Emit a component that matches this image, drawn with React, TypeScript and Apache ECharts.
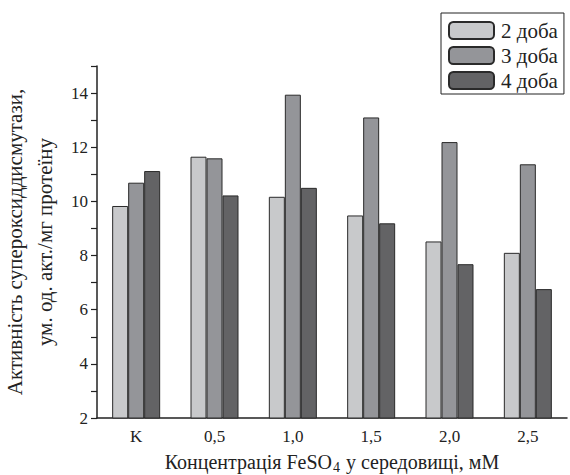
import React, { useEffect, useRef } from "react";
import * as echarts from "echarts";

const categories = ["K", "0,5", "1,0", "1,5", "2,0", "2,5"];
const seriesNames = ["2 доба", "3 доба", "4 доба"];
const day2 = [9.83, 11.65, 10.17, 9.48, 8.52, 8.1];
const day3 = [10.69, 11.59, 13.94, 13.1, 12.19, 11.37];
const day4 = [11.12, 10.22, 10.5, 9.19, 7.68, 6.76];
const colors = ["#c8c9cb", "#949599", "#636365"];

const FONT = "Liberation Serif";

export default function App() {
  const ref = useRef<HTMLDivElement>(null);
  useEffect(() => {
    if (!ref.current) return;
    const chart = echarts.init(ref.current, null, { renderer: "svg" });
    const values = [day2, day3, day4];
    chart.setOption({
      animation: false,
      backgroundColor: "#fff",
      textStyle: { fontFamily: FONT },
      grid: { left: 97, right: 3, top: 66, bottom: 57, containLabel: false, outerBoundsMode: "none" },
      legend: {
        data: seriesNames,
        orient: "vertical",
        left: 441,
        top: 13,
        itemWidth: 45,
        itemHeight: 17,
        itemGap: 4,
        padding: [7, 6, 3, 7],
        borderColor: "#222",
        borderWidth: 1,
        textStyle: { fontFamily: FONT, fontSize: 21, color: "#222", padding: [0, 0, 0, 2] },
      },
      xAxis: [
        {
          type: "category",
          data: categories,
          axisLine: { lineStyle: { color: "#222", width: 1.5 } },
          axisTick: { alignWithLabel: true, length: 5, lineStyle: { color: "#222", width: 1.2 } },
          axisLabel: { fontFamily: FONT, fontSize: 17, color: "#222", margin: 10 },
          name: "{a|Концентрація FeSO}{s|4}{a| у середовищі, мМ}",
          nameLocation: "middle",
          nameGap: 32,
          nameTextStyle: {
            rich: {
              a: { fontFamily: FONT, fontSize: 20, color: "#222" },
              s: { fontFamily: FONT, fontSize: 14, color: "#222", padding: [10, 1, 0, 1] },
            },
          },
        },
        {
          type: "category",
          data: categories,
          position: "bottom",
          axisLine: { show: false },
          axisTick: { length: 5, lineStyle: { color: "#222", width: 1.2 } },
          axisLabel: { show: false },
        },
      ],
      yAxis: {
        type: "value",
        min: 2,
        max: 15,
        interval: 1,
        axisLine: { show: true, lineStyle: { color: "#222", width: 1.5 } },
        axisTick: { show: true, length: 6, lineStyle: { color: "#222", width: 1.2 } },
        splitLine: { show: false },
        axisLabel: {
          fontFamily: FONT,
          fontSize: 17,
          color: "#222",
          margin: 9,
          formatter: (v: number) => (v % 2 === 0 ? String(v) : ""),
        },
        name: "Активність супероксиддисмутази,\nум. од. акт./мг протеїну",
        nameLocation: "middle",
        nameGap: 34,
        nameTextStyle: { fontFamily: FONT, fontSize: 21, color: "#222", lineHeight: 30 },
      },
      series: seriesNames.map((n, i) => ({
        name: n,
        type: "bar",
        xAxisIndex: 0,
        data: values[i],
        barWidth: 16,
        barGap: "0%",
        itemStyle: { color: colors[i], borderColor: "#2a2a2a", borderWidth: 1 },
      })),
    });
    return () => chart.dispose();
  }, []);
  return <div ref={ref} style={{ width: 570, height: 475, position: "absolute", left: 0, top: 0 }} />;
}
